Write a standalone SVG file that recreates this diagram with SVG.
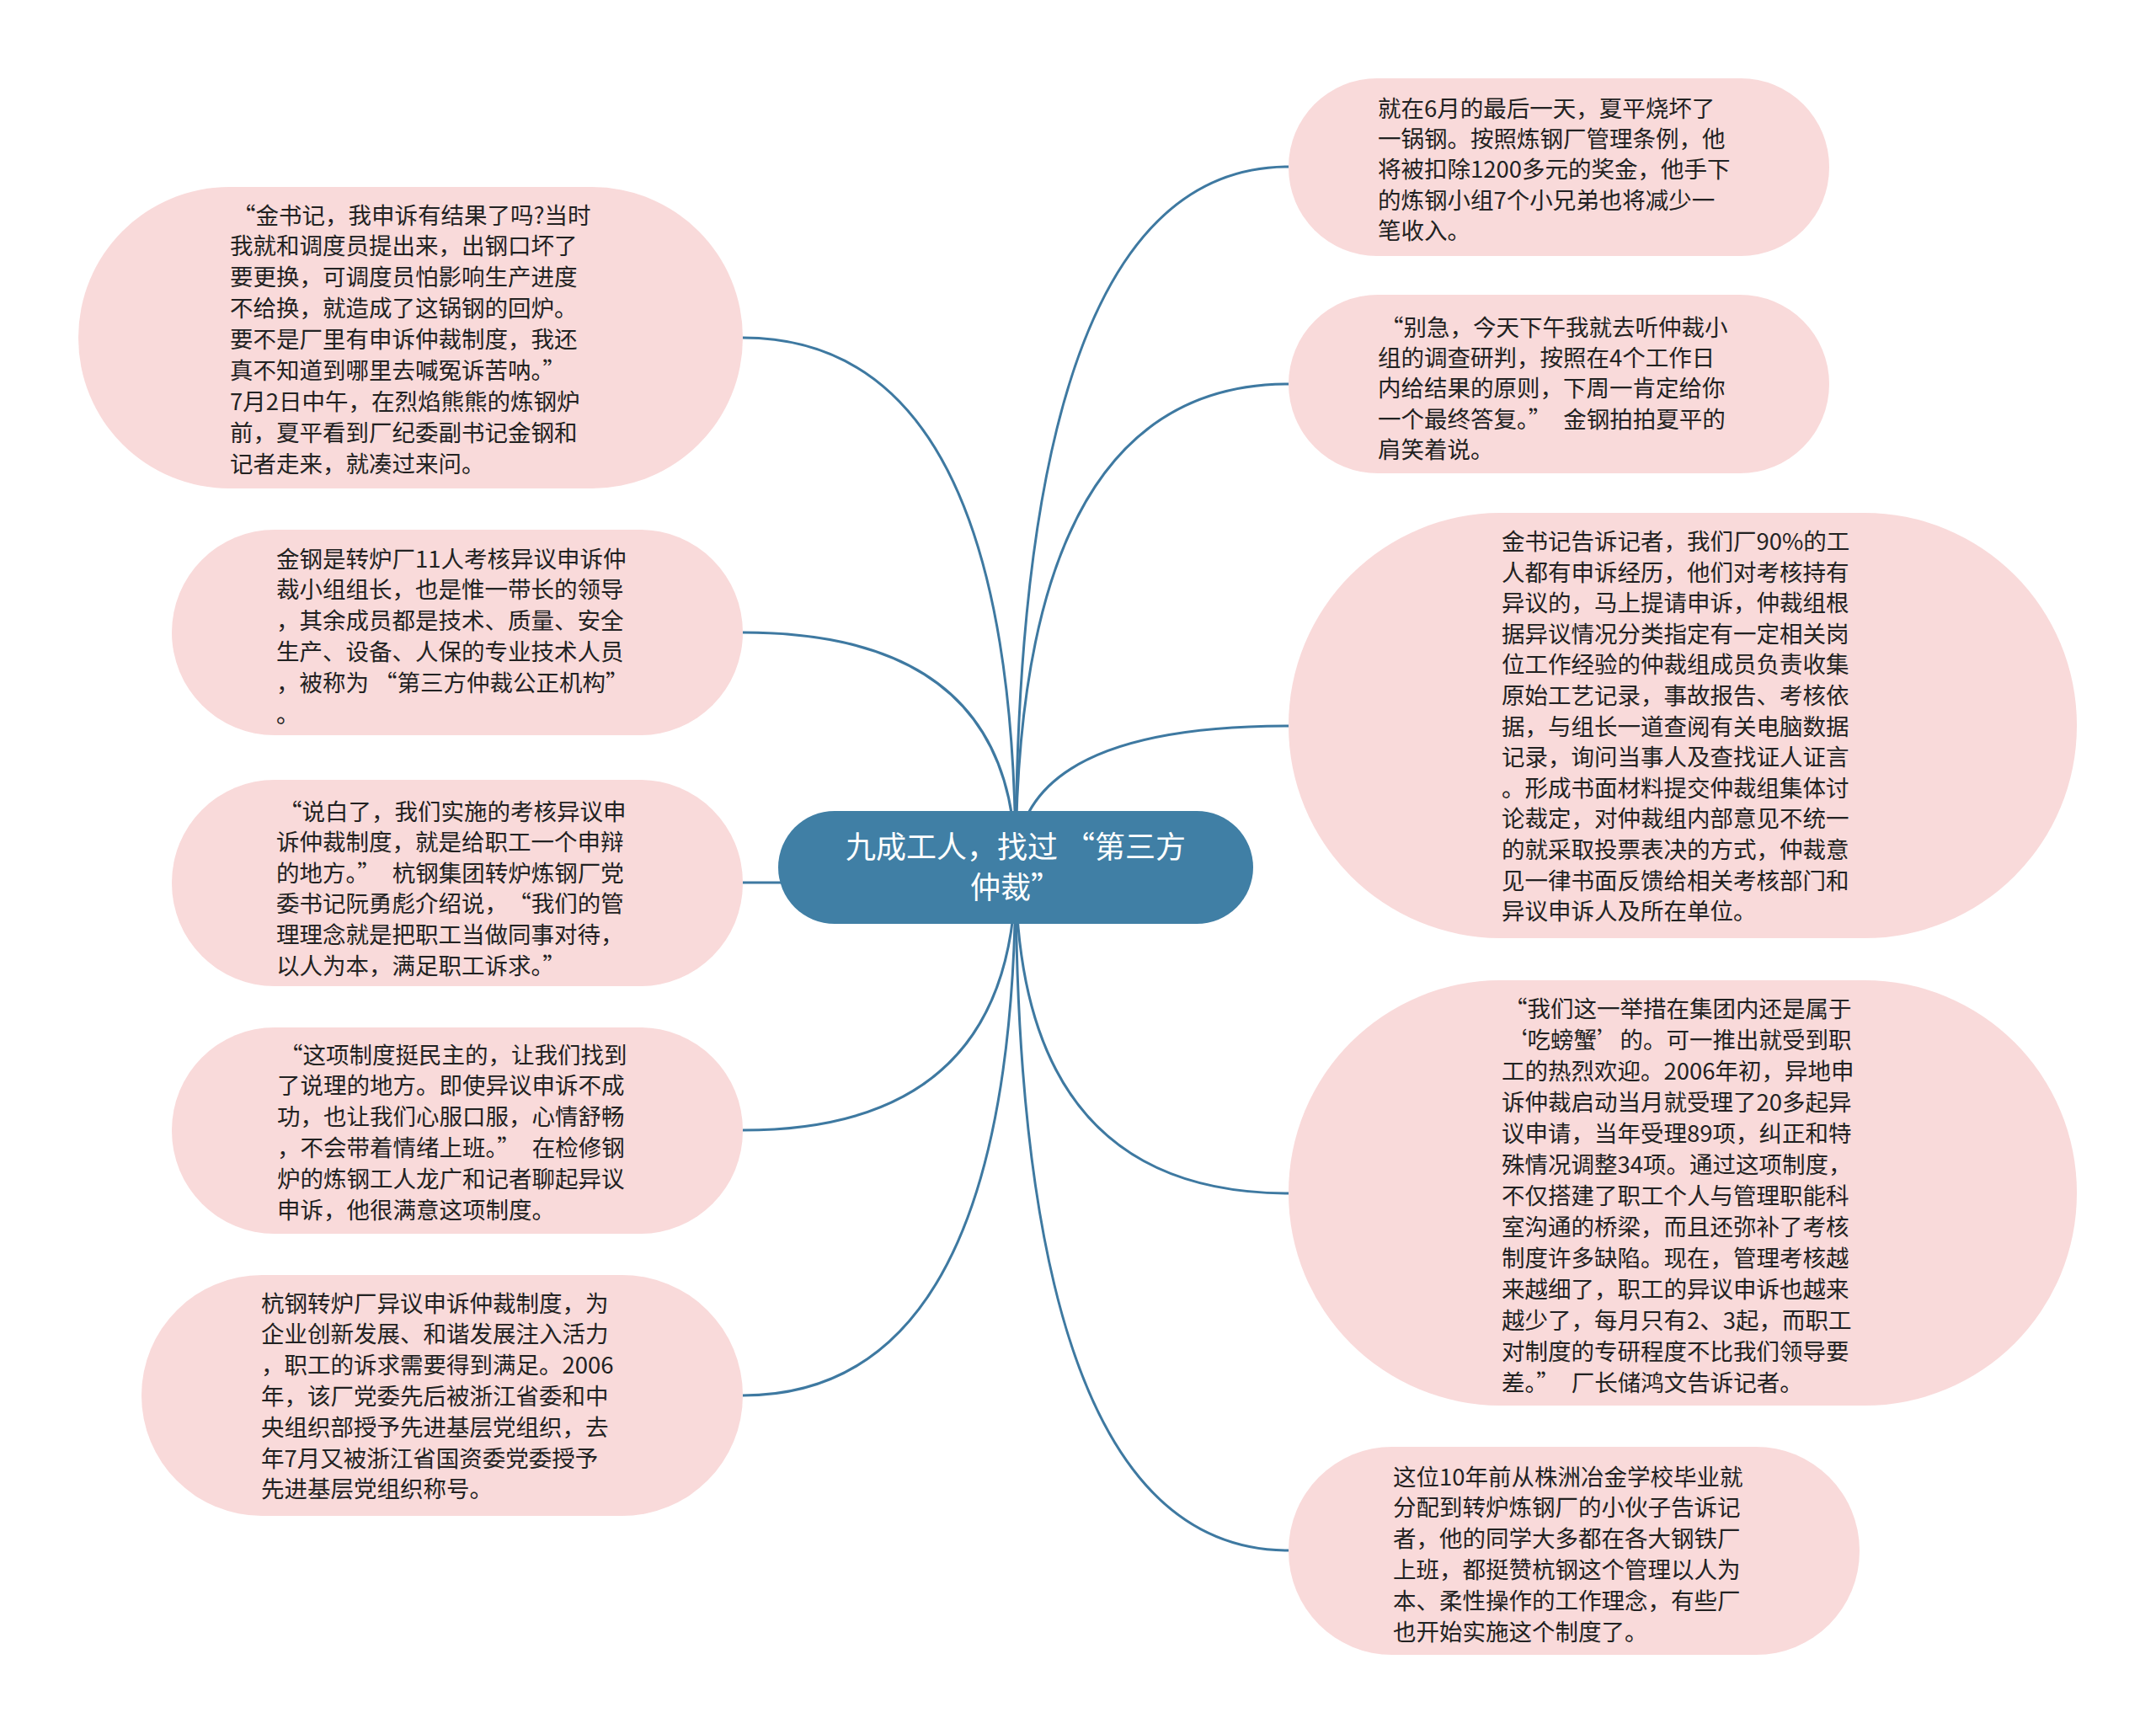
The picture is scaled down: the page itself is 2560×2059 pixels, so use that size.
<svg xmlns="http://www.w3.org/2000/svg" width="2560" height="2059" viewBox="0 0 2560 2059">
<style>
.bg{fill:#ffffff}
.leaf{fill:#f9dada}
.root{fill:#407fa5}
.link{fill:none;stroke:#3e79a1;stroke-width:3}
.t{font-family:"Noto Sans CJK SC","Noto Sans",sans-serif;font-size:27.5px;fill:#222222}
.rt{font-family:"Noto Sans CJK SC","Noto Sans",sans-serif;font-size:36px;fill:#ffffff;text-anchor:middle}
</style>
<rect class="bg" x="0" y="0" width="2560" height="2059"/>
<g id="connectors">
<path class="link" d="M1206,1030 Q1206,401 882,401"/>
<path class="link" d="M1206,1030 Q1206,751 882,751"/>
<path class="link" d="M1206,1030 Q1206,1048 882,1048"/>
<path class="link" d="M1206,1030 Q1206,1342 882,1342"/>
<path class="link" d="M1206,1030 Q1206,1657 882,1657"/>
<path class="link" d="M1206,1030 Q1206,198 1530,198"/>
<path class="link" d="M1206,1030 Q1206,456 1530,456"/>
<path class="link" d="M1206,1030 Q1206,862 1530,862"/>
<path class="link" d="M1206,1030 Q1206,1417 1530,1417"/>
<path class="link" d="M1206,1030 Q1206,1841 1530,1841"/>
</g>
<g id="root">
<rect class="root" x="924" y="963" width="564" height="134" rx="67" ry="67"/>
<text class="rt" x="1206" y="1019">九成工人，找过<tspan dx="8">“</tspan>第三方</text>
<text class="rt" x="1206" y="1067">仲裁”</text>
</g>
<g id="node-l1">
<rect class="leaf" x="93" y="222" width="789" height="358" rx="179" ry="179"/>
<text class="t" x="273" y="265.5">
<tspan x="273" dy="0"><tspan dx="3">“</tspan>金书记，我申诉有结果了吗?当时</tspan>
<tspan x="273" dy="36.9">我就和调度员提出来，出钢口坏了</tspan>
<tspan x="273" dy="36.9">要更换，可调度员怕影响生产进度</tspan>
<tspan x="273" dy="36.9">不给换，就造成了这锅钢的回炉。</tspan>
<tspan x="273" dy="36.9">要不是厂里有申诉仲裁制度，我还</tspan>
<tspan x="273" dy="36.9">真不知道到哪里去喊冤诉苦呐。”</tspan>
<tspan x="273" dy="36.9">7月2日中午，在烈焰熊熊的炼钢炉</tspan>
<tspan x="273" dy="36.9">前，夏平看到厂纪委副书记金钢和</tspan>
<tspan x="273" dy="36.9">记者走来，就凑过来问。</tspan>
</text>
</g>
<g id="node-l2">
<rect class="leaf" x="204" y="629" width="678" height="244" rx="122" ry="122"/>
<text class="t" x="328" y="673.5">
<tspan x="328" dy="0">金钢是转炉厂11人考核异议申诉仲</tspan>
<tspan x="328" dy="36.9">裁小组组长，也是惟一带长的领导</tspan>
<tspan x="328" dy="36.9">，其余成员都是技术、质量、安全</tspan>
<tspan x="328" dy="36.9">生产、设备、人保的专业技术人员</tspan>
<tspan x="328" dy="36.9">，被称为<tspan dx="6">“</tspan>第三方仲裁公正机构”</tspan>
<tspan x="328" dy="36.9">。</tspan>
</text>
</g>
<g id="node-l3">
<rect class="leaf" x="204" y="926" width="678" height="245" rx="122" ry="122"/>
<text class="t" x="328" y="973.5">
<tspan x="328" dy="0"><tspan dx="3">“</tspan>说白了，我们实施的考核异议申</tspan>
<tspan x="328" dy="36.6">诉仲裁制度，就是给职工一个申辩</tspan>
<tspan x="328" dy="36.6">的地方。”<tspan dx="14">杭</tspan>钢集团转炉炼钢厂党</tspan>
<tspan x="328" dy="36.6">委书记阮勇彪介绍说，<tspan dx="14">“</tspan>我们的管</tspan>
<tspan x="328" dy="36.6">理理念就是把职工当做同事对待，</tspan>
<tspan x="328" dy="36.6">以人为本，满足职工诉求。”</tspan>
</text>
</g>
<g id="node-l4">
<rect class="leaf" x="204" y="1220" width="678" height="245" rx="122" ry="122"/>
<text class="t" x="329" y="1262.5">
<tspan x="329" dy="0"><tspan dx="3">“</tspan>这项制度挺民主的，让我们找到</tspan>
<tspan x="329" dy="36.9">了说理的地方。即使异议申诉不成</tspan>
<tspan x="329" dy="36.9">功，也让我们心服口服，心情舒畅</tspan>
<tspan x="329" dy="36.9">，不会带着情绪上班。”<tspan dx="14">在</tspan>检修钢</tspan>
<tspan x="329" dy="36.9">炉的炼钢工人龙广和记者聊起异议</tspan>
<tspan x="329" dy="36.9">申诉，他很满意这项制度。</tspan>
</text>
</g>
<g id="node-l5">
<rect class="leaf" x="168" y="1514" width="714" height="286" rx="143" ry="143"/>
<text class="t" x="310" y="1557.5">
<tspan x="310" dy="0">杭钢转炉厂异议申诉仲裁制度，为</tspan>
<tspan x="310" dy="36.8">企业创新发展、和谐发展注入活力</tspan>
<tspan x="310" dy="36.8">，职工的诉求需要得到满足。2006</tspan>
<tspan x="310" dy="36.8">年，该厂党委先后被浙江省委和中</tspan>
<tspan x="310" dy="36.8">央组织部授予先进基层党组织，去</tspan>
<tspan x="310" dy="36.8">年7月又被浙江省国资委党委授予</tspan>
<tspan x="310" dy="36.8">先进基层党组织称号。</tspan>
</text>
</g>
<g id="node-r1">
<rect class="leaf" x="1530" y="93" width="642" height="211" rx="105" ry="105"/>
<text class="t" x="1636" y="138.5">
<tspan x="1636" dy="0">就在6月的最后一天，夏平烧坏了</tspan>
<tspan x="1636" dy="36.4">一锅钢。按照炼钢厂管理条例，他</tspan>
<tspan x="1636" dy="36.4">将被扣除1200多元的奖金，他手下</tspan>
<tspan x="1636" dy="36.4">的炼钢小组7个小兄弟也将减少一</tspan>
<tspan x="1636" dy="36.4">笔收入。</tspan>
</text>
</g>
<g id="node-r2">
<rect class="leaf" x="1530" y="350" width="642" height="212" rx="106" ry="106"/>
<text class="t" x="1636" y="398.5">
<tspan x="1636" dy="0"><tspan dx="3">“</tspan>别急，今天下午我就去听仲裁小</tspan>
<tspan x="1636" dy="36.4">组的调查研判，按照在4个工作日</tspan>
<tspan x="1636" dy="36.4">内给结果的原则，下周一肯定给你</tspan>
<tspan x="1636" dy="36.4">一个最终答复。”<tspan dx="14">金</tspan>钢拍拍夏平的</tspan>
<tspan x="1636" dy="36.4">肩笑着说。</tspan>
</text>
</g>
<g id="node-r3">
<rect class="leaf" x="1530" y="609" width="936" height="505" rx="252" ry="252"/>
<text class="t" x="1783" y="653">
<tspan x="1783" dy="0">金书记告诉记者，我们厂90%的工</tspan>
<tspan x="1783" dy="36.6">人都有申诉经历，他们对考核持有</tspan>
<tspan x="1783" dy="36.6">异议的，马上提请申诉，仲裁组根</tspan>
<tspan x="1783" dy="36.6">据异议情况分类指定有一定相关岗</tspan>
<tspan x="1783" dy="36.6">位工作经验的仲裁组成员负责收集</tspan>
<tspan x="1783" dy="36.6">原始工艺记录，事故报告、考核依</tspan>
<tspan x="1783" dy="36.6">据，与组长一道查阅有关电脑数据</tspan>
<tspan x="1783" dy="36.6">记录，询问当事人及查找证人证言</tspan>
<tspan x="1783" dy="36.6">。形成书面材料提交仲裁组集体讨</tspan>
<tspan x="1783" dy="36.6">论裁定，对仲裁组内部意见不统一</tspan>
<tspan x="1783" dy="36.6">的就采取投票表决的方式，仲裁意</tspan>
<tspan x="1783" dy="36.6">见一律书面反馈给相关考核部门和</tspan>
<tspan x="1783" dy="36.6">异议申诉人及所在单位。</tspan>
</text>
</g>
<g id="node-r4">
<rect class="leaf" x="1530" y="1164" width="936" height="505" rx="252" ry="252"/>
<text class="t" x="1783" y="1207.5">
<tspan x="1783" dy="0"><tspan dx="3">“</tspan>我们这一举措在集团内还是属于</tspan>
<tspan x="1783" dy="37"><tspan dx="3">‘</tspan>吃螃蟹’的。可一推出就受到职</tspan>
<tspan x="1783" dy="37">工的热烈欢迎。2006年初，异地申</tspan>
<tspan x="1783" dy="37">诉仲裁启动当月就受理了20多起异</tspan>
<tspan x="1783" dy="37">议申请，当年受理89项，纠正和特</tspan>
<tspan x="1783" dy="37">殊情况调整34项。通过这项制度，</tspan>
<tspan x="1783" dy="37">不仅搭建了职工个人与管理职能科</tspan>
<tspan x="1783" dy="37">室沟通的桥梁，而且还弥补了考核</tspan>
<tspan x="1783" dy="37">制度许多缺陷。现在，管理考核越</tspan>
<tspan x="1783" dy="37">来越细了，职工的异议申诉也越来</tspan>
<tspan x="1783" dy="37">越少了，每月只有2、3起，而职工</tspan>
<tspan x="1783" dy="37">对制度的专研程度不比我们领导要</tspan>
<tspan x="1783" dy="37">差。”<tspan dx="14">厂</tspan>长储鸿文告诉记者。</tspan>
</text>
</g>
<g id="node-r5">
<rect class="leaf" x="1530" y="1718" width="678" height="247" rx="123" ry="123"/>
<text class="t" x="1654" y="1763.5">
<tspan x="1654" dy="0">这位10年前从株洲冶金学校毕业就</tspan>
<tspan x="1654" dy="36.8">分配到转炉炼钢厂的小伙子告诉记</tspan>
<tspan x="1654" dy="36.8">者，他的同学大多都在各大钢铁厂</tspan>
<tspan x="1654" dy="36.8">上班，都挺赞杭钢这个管理以人为</tspan>
<tspan x="1654" dy="36.8">本、柔性操作的工作理念，有些厂</tspan>
<tspan x="1654" dy="36.8">也开始实施这个制度了。</tspan>
</text>
</g>
</svg>
